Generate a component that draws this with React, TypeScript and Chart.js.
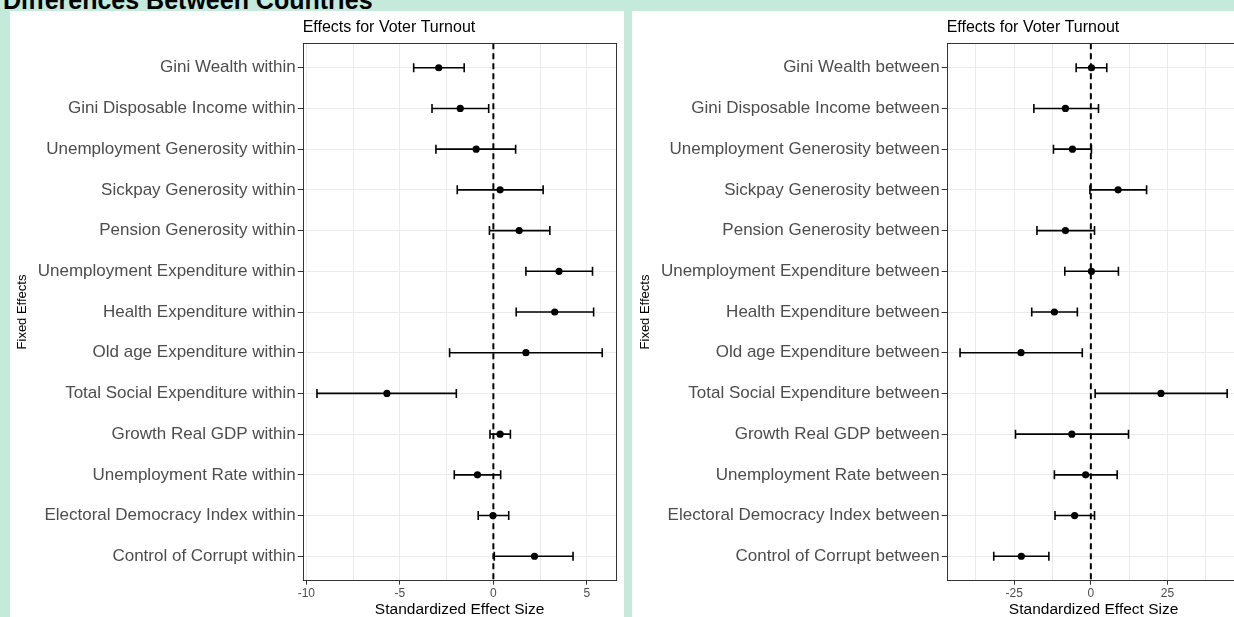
import React, { useEffect, useRef } from "react";
import { Chart, registerables } from "chart.js";

Chart.register(...registerables);

// ---------- data ----------
const withinLabels = [
  "Gini Wealth within",
  "Gini Disposable Income within",
  "Unemployment Generosity within",
  "Sickpay Generosity within",
  "Pension Generosity within",
  "Unemployment Expenditure within",
  "Health Expenditure within",
  "Old age Expenditure within",
  "Total Social Expenditure within",
  "Growth Real GDP within",
  "Unemployment Rate within",
  "Electoral Democracy Index within",
  "Control of Corrupt within",
];
const withinEst = [-2.92, -1.77, -0.92, 0.36, 1.38, 3.51, 3.28, 1.74, -5.69, 0.36, -0.85, -0.02, 2.2];
const withinLo = [-4.26, -3.28, -3.07, -1.93, -0.21, 1.74, 1.22, -2.34, -9.43, -0.18, -2.09, -0.81, 0.05];
const withinHi = [-1.56, -0.25, 1.19, 2.66, 3.02, 5.3, 5.36, 5.82, -1.98, 0.91, 0.39, 0.82, 4.26];

const betweenLabels = [
  "Gini Wealth between",
  "Gini Disposable Income between",
  "Unemployment Generosity between",
  "Sickpay Generosity between",
  "Pension Generosity between",
  "Unemployment Expenditure between",
  "Health Expenditure between",
  "Old age Expenditure between",
  "Total Social Expenditure between",
  "Growth Real GDP between",
  "Unemployment Rate between",
  "Electoral Democracy Index between",
  "Control of Corrupt between",
];
const betweenEst = [0.2, -8.3, -6.0, 8.9, -8.3, 0.2, -11.9, -22.8, 22.9, -6.2, -1.7, -5.3, -22.7];
const betweenLo = [-4.8, -18.6, -12.2, -0.3, -17.6, -8.5, -19.3, -42.7, 1.4, -24.6, -11.9, -11.7, -31.7];
const betweenHi = [5.2, 2.5, 0.2, 18.2, 1.2, 9.0, -4.4, -2.8, 44.5, 12.3, 8.6, 1.2, -13.7];

const withinGridValues = [-10, -7.5, -5, -2.5, 0, 2.5, 5];
const withinTickLabels = [-10, -5, 0, 5];
const betweenGridValues = [-37.5, -25, -12.5, 0, 12.5, 25, 37.5];
const betweenTickLabels = [-25, 0, 25];

const pageTitle = "Differences Between Countries";
const chartTitle = "Effects for Voter Turnout";
const xTitle = "Standardized Effect Size";
const yTitle = "Fixed Effects";

const FONT = "'Liberation Sans', Arial, Helvetica, sans-serif";

function expandRange(lo: number[], hi: number[]) {
  const mn = Math.min(...lo);
  const mx = Math.max(...hi);
  const pad = (mx - mn) * 0.05;
  return [mn - pad, mx + pad];
}

type PanelProps = {
  labels: string[];
  est: number[];
  lo: number[];
  hi: number[];
  gridValues: number[];
  tickLabels: number[];
  yAxisWidth: number;
  yTitlePad: number;
  width: number;
  height: number;
  chartBottom: number;
};

function ForestPanel(p: PanelProps) {
  const ref = useRef<HTMLCanvasElement>(null);

  useEffect(() => {
    if (!ref.current) return;
    const [xmin, xmax] = expandRange(p.lo, p.hi);
    const n = p.labels.length;
    const ymin = 0.4;
    const ymax = n + 0.6;

    const errData: any[] = [];
    p.labels.forEach((_, i) => {
      errData.push({ x: p.lo[i], y: i + 1 }, { x: p.hi[i], y: i + 1 }, { x: p.hi[i], y: null });
    });
    const pointData = p.est.map((v, i) => ({ x: v, y: i + 1 }));
    const zeroData = [
      { x: 0, y: ymin },
      { x: 0, y: ymax },
    ];

    const borderPlugin = {
      id: "panelBorder",
      afterDatasetsDraw(chart: any) {
        const { ctx, chartArea: a } = chart;
        ctx.save();
        ctx.strokeStyle = "#333333";
        ctx.lineWidth = 1;
        const l = Math.round(a.left) + 0.5;
        const t = Math.round(a.top) + 0.5;
        const r = Math.round(a.right) - 0.5;
        const b = Math.round(a.bottom) - 0.5;
        ctx.strokeRect(l, t, r - l, b - t);
        ctx.restore();
      },
    };

    const chart = new Chart(ref.current, {
      type: "line",
      data: {
        datasets: [
          {
            label: "estimate",
            data: pointData,
            showLine: false,
            pointRadius: 3.6,
            pointBackgroundColor: "#000000",
            pointBorderWidth: 0,
            pointBorderColor: "#000000",
          },
          {
            label: "interval",
            data: errData,
            borderColor: "#000000",
            borderWidth: 1.6,
            spanGaps: false,
            tension: 0,
            pointStyle: "line",
            pointRotation: 90,
            pointRadius: 4.5,
            pointBorderWidth: 1.6,
            pointBorderColor: "#000000",
          },
          {
            label: "zero",
            data: zeroData,
            borderColor: "#000000",
            borderWidth: 2,
            borderDash: [6, 4],
            pointRadius: 0,
          },
        ],
      },
      options: {
        animation: false,
        responsive: false,
        events: [],
        layout: { padding: { left: 0, right: 7.5, top: 0, bottom: 0 } },
        plugins: {
          legend: { display: false },
          tooltip: { enabled: false },
          title: {
            display: true,
            text: chartTitle,
            align: "start",
            fullSize: false,
            color: "#000000",
            font: { family: FONT, size: 16, weight: "normal", lineHeight: 1.2 },
            padding: { top: 6.5, bottom: 6.6 },
          },
        },
        scales: {
          x: {
            type: "linear",
            position: "bottom",
            min: xmin,
            max: xmax,
            afterBuildTicks: (scale: any) => {
              scale.ticks = p.gridValues.map((v) => ({ value: v }));
            },
            afterFit: (scale: any) => {
              scale.height = p.height - p.chartBottom;
            },
            grid: {
              color: "#ebebeb",
              lineWidth: 1,
              drawTicks: true,
              tickLength: 4,
              tickColor: (ctx: any) =>
                ctx.tick && p.tickLabels.includes(ctx.tick.value) ? "#333333" : "rgba(0,0,0,0)",
            },
            border: { display: false },
            ticks: {
              autoSkip: false,
              maxRotation: 0,
              padding: 2,
              color: "#4d4d4d",
              font: { family: FONT, size: 12 },
              callback: (v: any) => (p.tickLabels.includes(Number(v)) ? String(v) : ""),
            },
            title: {
              display: true,
              text: xTitle,
              color: "#000000",
              font: { family: FONT, size: 15.5, lineHeight: 1 },
              padding: { top: 0, bottom: 0 },
            },
          },
          y: {
            type: "linear",
            position: "left",
            min: ymin,
            max: ymax,
            reverse: true,
            afterBuildTicks: (scale: any) => {
              scale.ticks = p.labels.map((_, i) => ({ value: i + 1 }));
            },
            afterFit: (scale: any) => {
              scale.width = p.yAxisWidth;
            },
            grid: {
              color: "#ebebeb",
              lineWidth: 1,
              drawTicks: true,
              tickLength: 5,
              tickColor: "#333333",
            },
            border: { display: false },
            ticks: {
              autoSkip: false,
              padding: 2,
              color: "#4d4d4d",
              font: { family: FONT, size: 17 },
              callback: (v: any) => p.labels[Number(v) - 1] ?? "",
            },
            title: {
              display: true,
              text: yTitle,
              color: "#000000",
              font: { family: FONT, size: 13, lineHeight: 1 },
              padding: { top: p.yTitlePad, bottom: 0 },
            },
          },
        },
      },
      plugins: [borderPlugin],
    } as any);

    return () => chart.destroy();
  }, []);

  return <canvas ref={ref} width={p.width} height={p.height} style={{ display: "block" }} />;
}

export default function App() {
  return (
    <div
      style={{
        position: "fixed",
        left: 0,
        top: 0,
        width: 1234,
        height: 617,
        overflow: "hidden",
        background: "#c3eadb",
        fontFamily: FONT,
      }}
    >
      <div
        style={{
          position: "absolute",
          left: 3,
          top: -11.7,
          fontSize: 25,
          lineHeight: "25px",
          fontWeight: "bold",
          color: "#000",
          whiteSpace: "nowrap",
        }}
      >
        {pageTitle}
      </div>
      <div style={{ position: "absolute", left: 10, top: 11, width: 614, height: 606, background: "#ffffff" }}>
        <ForestPanel
          labels={withinLabels}
          est={withinEst}
          lo={withinLo}
          hi={withinHi}
          gridValues={withinGridValues}
          tickLabels={withinTickLabels}
          yAxisWidth={292.7}
          yTitlePad={6.3}
          width={614}
          height={606}
          chartBottom={569.7}
        />
      </div>
      <div style={{ position: "absolute", left: 632, top: 11, width: 616, height: 606, background: "#ffffff" }}>
        <ForestPanel
          labels={betweenLabels}
          est={betweenEst}
          lo={betweenLo}
          hi={betweenHi}
          gridValues={betweenGridValues}
          tickLabels={betweenTickLabels}
          yAxisWidth={314.7}
          yTitlePad={7.3}
          width={616}
          height={606}
          chartBottom={569.7}
        />
      </div>
    </div>
  );
}
